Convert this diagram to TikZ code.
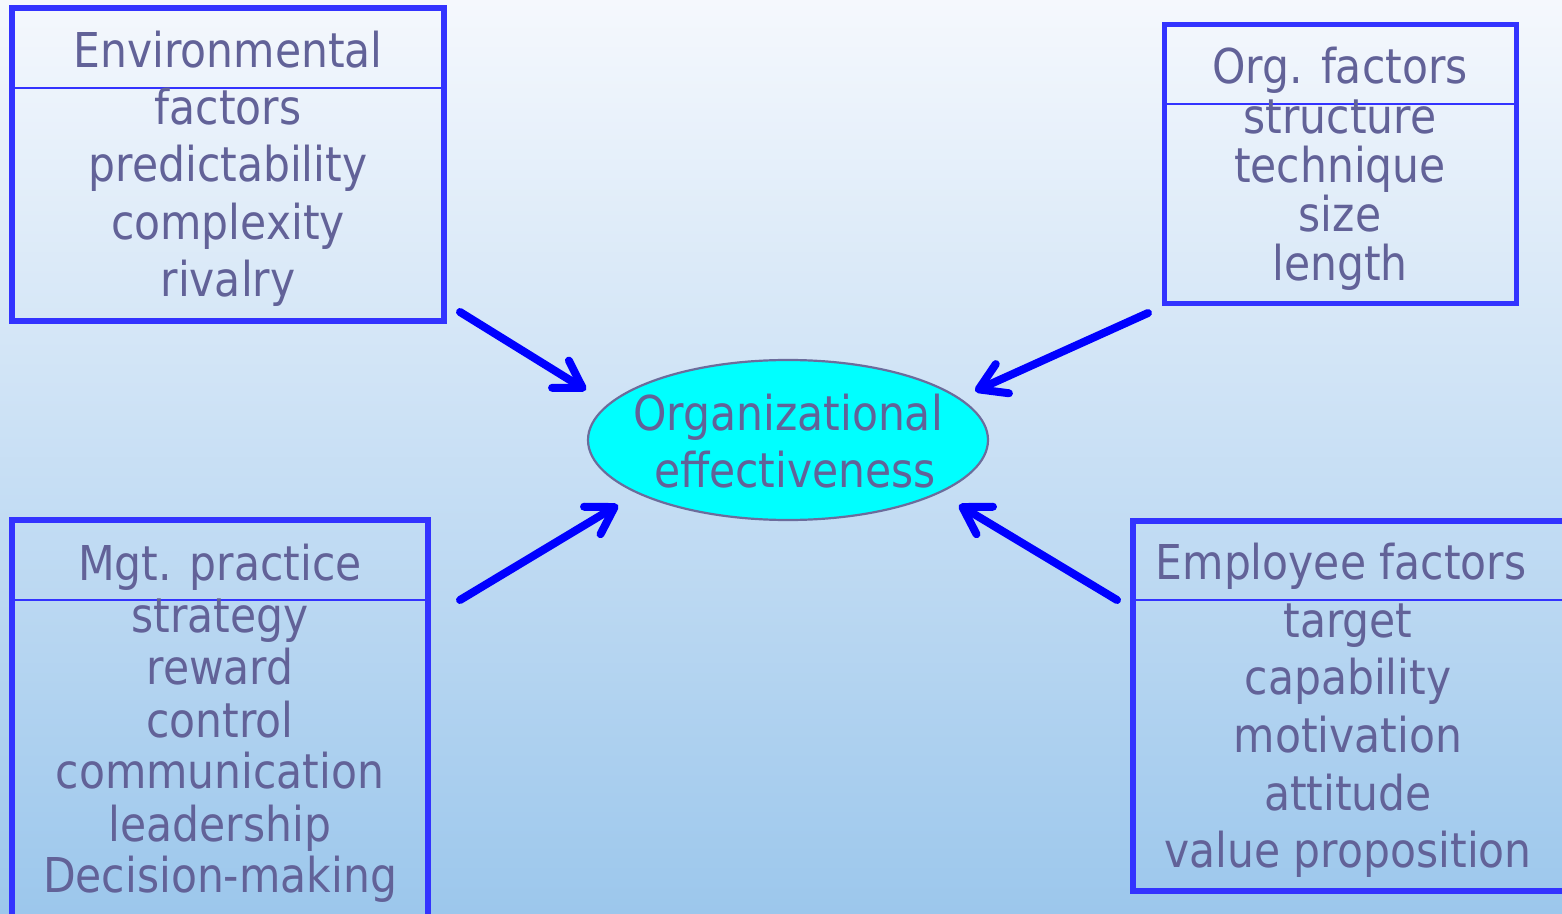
\documentclass[tikz,border=0pt]{standalone}
\usepackage{fontspec}
\setmainfont{DejaVu Sans}[FakeStretch=0.885]
\usetikzlibrary{arrows.meta,shapes.geometric}
\definecolor{txt}{RGB}{98,98,152}
\definecolor{boxblue}{RGB}{51,51,255}
\definecolor{arrblue}{RGB}{0,0,255}
\definecolor{cyanfill}{RGB}{0,255,255}
\definecolor{ellborder}{RGB}{108,108,156}
\definecolor{bgtop}{RGB}{245,248,253}
\definecolor{bgbot}{RGB}{156,199,236}
\tikzset{
  boxnode/.style={draw=boxblue, line width=2.8pt, rectangle, inner sep=0pt, outer sep=0pt},
  divline/.style={draw=boxblue, line width=1.1pt},
  lbl/.style={text=txt, font=\fontsize{24pt}{28pt}\selectfont, inner sep=0pt, anchor=base},
  arr/.style={draw=arrblue, line width=4pt, line cap=round,
    -{Straight Barb[length=13pt, width=16pt, line cap=round, line join=round]}},
  ellnode/.style={ellipse, draw=ellborder, line width=1.1pt, fill=cyanfill, inner sep=0pt,
    minimum width=200pt, minimum height=80pt}
}
\begin{document}
\begin{tikzpicture}[x=0.5pt,y=-0.5pt]
\useasboundingbox (0,0) rectangle (1562,914);
\clip (0,0) rectangle (1562,914);
\shade[top color=bgtop, bottom color=bgbot] (0,0) rectangle (1562,914);

% boxes
\node[boxnode, minimum width=216pt, minimum height=156.5pt] (env) at (228,164.5) {};
\node[boxnode, minimum width=176pt, minimum height=139.5pt] (org) at (1340.5,164) {};
\node[boxnode, minimum width=208pt, minimum height=200pt] (mgt) at (220,720) {};
\node[boxnode, minimum width=218.5pt, minimum height=185pt] (emp) at (1351.5,706) {};

\draw[divline] (env.west |- 0,88) -- (env.east |- 0,88);
\draw[divline] (org.west |- 0,104) -- (org.east |- 0,104);
\draw[divline] (mgt.west |- 0,600) -- (mgt.east |- 0,600);
\draw[divline] (emp.west |- 0,600) -- (emp.east |- 0,600);

% ellipse
\node[ellnode] (eff) at (788,440) {};
\node[lbl] (eff1) at (788,430) {Organizational};
\node[lbl] (eff2) at (795,487) {effectiveness};

% box texts
\node[lbl] (env0) at (228,68) {Environmental};
\node[lbl] (env1) at (228,125) {factors};
\node[lbl] (env2) at (228,182) {predictability};
\node[lbl] (env3) at (228,240) {complexity};
\node[lbl] (env4) at (228,297) {rivalry};

\node[lbl] (org0) at (1340,84) {Org. factors};
\node[lbl] (org1) at (1340,134) {structure};
\node[lbl] (org2) at (1340,183) {technique};
\node[lbl] (org3) at (1340,232) {size};
\node[lbl] (org4) at (1340,281) {length};

\node[lbl] (mgt0) at (220,580) {Mgt. practice};
\node[lbl] (mgt1) at (220,632) {strategy};
\node[lbl] (mgt2) at (220,684) {reward};
\node[lbl] (mgt3) at (220,737) {control};
\node[lbl] (mgt4) at (220,788) {communication};
\node[lbl] (mgt5) at (220,841) {leadership};
\node[lbl] (mgt6) at (220,892) {Decision-making};

\node[lbl] (emp0) at (1341,579) {Employee factors};
\node[lbl] (emp1) at (1348,637) {target};
\node[lbl] (emp2) at (1348,694) {capability};
\node[lbl] (emp3) at (1348,752) {motivation};
\node[lbl] (emp4) at (1348,810) {attitude};
\node[lbl] (emp5) at (1348,867) {value proposition};

% arrows
\coordinate (a1s) at (460,312);
\coordinate (a1e) at (586,390);
\coordinate (a2s) at (1148,313);
\coordinate (a2e) at (975,391);
\coordinate (a3s) at (460,600);
\coordinate (a3e) at (618,505);
\coordinate (a4s) at (1117,600);
\coordinate (a4e) at (959,505);
\draw[arr] (a1s) -- (a1e);
\draw[arr] (a2s) -- (a2e);
\draw[arr] (a3s) -- (a3e);
\draw[arr] (a4s) -- (a4e);
\end{tikzpicture}
\end{document}
